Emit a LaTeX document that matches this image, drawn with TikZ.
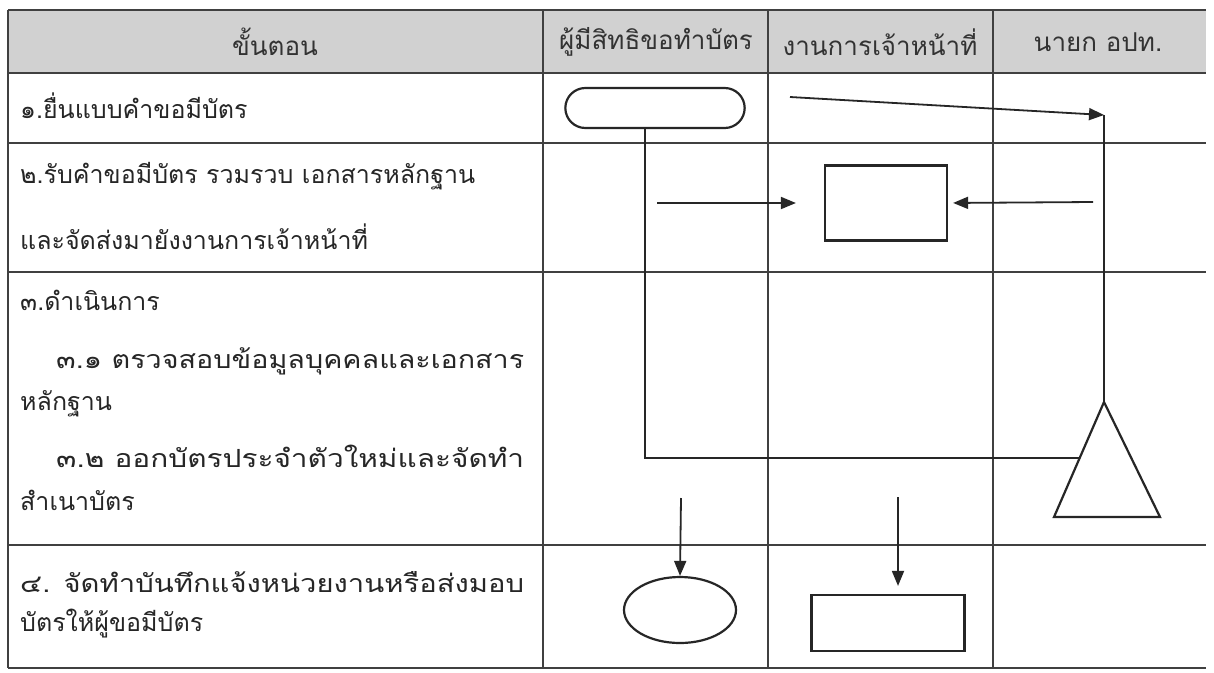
\documentclass[tikz,border=0pt]{standalone}
\usepackage{fontspec}
\newfontfamily\thai[Script=Thai]{Loma}
\usetikzlibrary{arrows.meta,shapes.misc,shapes.geometric,calc}
\begin{document}
\begin{tikzpicture}[x=1pt,y=-1pt,
  grid/.style={draw=black!75,line width=2.2pt},
  shp/.style={draw=black!85,line width=2.2pt,fill=white},
  conn/.style={draw=black!85,line width=1.8pt},
  arr/.style={conn,-{Triangle[length=15pt,width=12pt]}},
  txt/.style={font=\thai\fontsize{25}{29}\selectfont,anchor=west,inner sep=0pt,text=black!85},
  hdr/.style={font=\thai\fontsize{26}{30}\selectfont,anchor=center,inner sep=0pt,text=black!80}]
\useasboundingbox (0,0) rectangle (1214,672);
\fill[white] (0,0) rectangle (1214,672);
% header
\fill[black!18] (8,10) rectangle (1206,73);
% grid
\draw[grid] (8,10) -- (1206,10);
\draw[grid] (8,73) -- (1206,73);
\draw[grid] (8,143) -- (1206,143);
\draw[grid] (8,272) -- (1206,272);
\draw[grid] (8,545) -- (1206,545);
\draw[grid] (8,668) -- (1206,668);
\draw[grid] (8,10) -- (8,668);
\draw[grid] (543,10) -- (543,668);
\draw[grid] (768,10) -- (768,668);
\draw[grid] (993,10) -- (993,668);
% header texts
\node[hdr] (h1) at (275,42) {ขั้นตอน};
\node[hdr] (h2) at (656,42) {ผู้มีสิทธิขอทำบัตร};
\node[hdr] (h3) at (880,42) {งานการเจ้าหน้าที่};
\node[hdr] (h4) at (1098,42) {นายก อปท.};
% step texts
\node[txt] (t1) at (20,106) {๑.ยื่นแบบคำขอมีบัตร};
\node[txt] (t2a) at (20,176) {๒.รับคำขอมีบัตร รวมรวบ เอกสารหลักฐาน};
\node[txt] (t2b) at (20,237) {และจัดส่งมายังงานการเจ้าหน้าที่};
\node[txt] (t3a) at (20,300) {๓.ดำเนินการ};
\node[txt] (t3b) at (56,361) {\resizebox{468pt}{\height}{๓.๑ ตรวจสอบข้อมูลบุคคลและเอกสาร}};
\node[txt] (t3c) at (20,404) {หลักฐาน};
\node[txt] (t3d) at (56,456) {\resizebox{468pt}{\height}{๓.๒ ออกบัตรประจำตัวใหม่และจัดทำ}};
\node[txt] (t3e) at (20,500) {สำเนาบัตร};
\node[txt] (t4a) at (20,582) {\resizebox{504pt}{\height}{๔. จัดทำบันทึกแจ้งหน่วยงานหรือส่งมอบ}};
\node[txt] (t4b) at (20,624) {บัตรให้ผู้ขอมีบัตร};
% shapes
\node[shp,rounded rectangle,minimum width=186pt,minimum height=40pt] (term) at (655,108) {};
\node[shp,rectangle,minimum width=122pt,minimum height=75pt] (box2) at (886,203) {};
\node[shp,ellipse,minimum width=112pt,minimum height=66pt] (ell) at (680,610) {};
\node[shp,rectangle,minimum width=153pt,minimum height=56pt] (box4) at (888,623) {};
% triangle
\coordinate (triA) at (1104,402);
\coordinate (triL) at (1054,517);
\coordinate (triR) at (1160,517);
\draw[shp] (triA) -- (triL) -- (triR) -- cycle;
\coordinate (triJ) at ($(triA)!0.49!(triL)$);
% connectors
\coordinate (a1s) at (790,97);
\coordinate (top) at (1104,115);
\draw[arr] (a1s) -- (top);
\draw[conn] (triA) -- (top);
\coordinate (a2s) at (657,203);
\draw[arr,shorten >=28pt] (a2s) -- (box2.west);
\coordinate (a2r) at (1093,202);
\draw[arr,shorten >=5pt] (a2r) -- (box2.east);
\coordinate (termB) at (645,128);
\draw[conn] (termB) |- (triJ);
\coordinate (a3s) at (681,498);
\draw[arr] (a3s) -- (ell.north);
\coordinate (a4s) at (898,497);
\draw[arr,shorten >=8pt] (a4s) -- (box4.north -| a4s);
\end{tikzpicture}
\end{document}
